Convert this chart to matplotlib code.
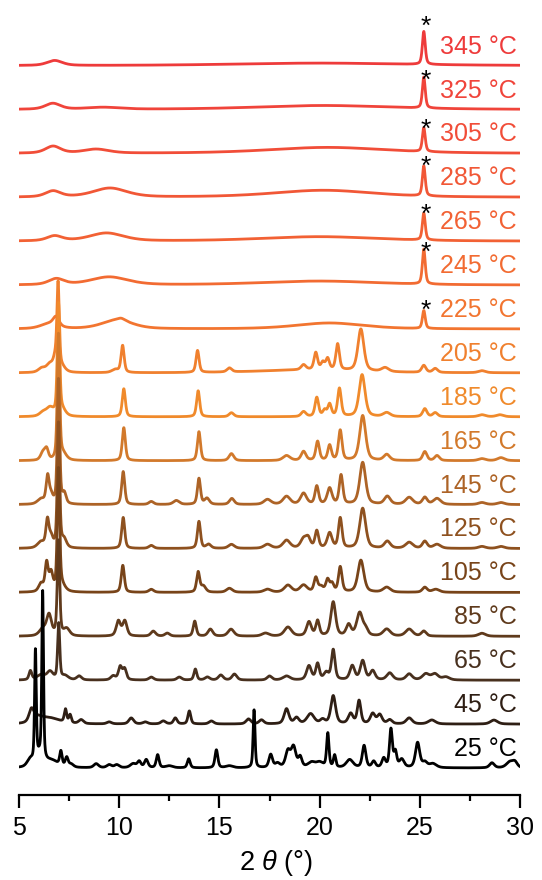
import numpy as np
import matplotlib
matplotlib.use("Agg")
import matplotlib.pyplot as plt

plt.rcParams['font.family'] = ['Liberation Sans', 'DejaVu Sans']
plt.rcParams['mathtext.fontset'] = 'custom'
plt.rcParams['mathtext.rm'] = 'Liberation Sans'
plt.rcParams['mathtext.it'] = 'Liberation Sans:italic'

# ---- data: temperatures, colours, peak lists (2theta, height, fwhm) ----
temps = [25, 45, 65, 85, 105, 125, 145, 165, 185, 205, 225, 245, 265, 285, 305, 325, 345]
colors = ['#000000', '#2e1e14', '#48301e', '#5f3a1c', '#784419', '#8e511f', '#ad6326',
          '#d2792b', '#f08a2b', '#f0802e', '#f27530', '#f26b32', '#f26134', '#f15736',
          '#f14d38', '#f0443a', '#ee3b3b']

p25 = [(5.55, 7, 0.35), (5.82, 110, 0.07), (6.0, 10, 0.4), (6.18, 168, 0.07), (6.6, 7, 0.8),
       (7.09, 14, 0.1), (7.38, 9, 0.12), (7.6, 3, 0.2), (8.85, 4, 0.2), (9.5, 3, 0.2),
       (9.88, 3, 0.2), (10.7, 4, 0.25), (11.0, 6, 0.15), (11.35, 8, 0.15), (11.92, 13, 0.12),
       (12.5, 2, 0.3), (13.47, 9, 0.12), (14.85, 18, 0.12), (15.5, 2, 0.3), (16.73, 58, 0.08),
       (17.56, 13, 0.15), (17.9, 4, 0.2), (18.42, 16, 0.2), (18.7, 20, 0.2), (19.03, 10, 0.15),
       (19.6, 5, 0.3), (20.0, 5, 0.3), (20.41, 34, 0.1), (20.75, 12, 0.1), (21.5, 8, 0.4),
       (22.22, 22, 0.15), (22.7, 6, 0.15), (23.2, 9, 0.15), (23.56, 38, 0.12), (23.78, 15, 0.12),
       (24.1, 8, 0.2), (24.89, 25, 0.18), (25.25, 5, 0.2), (25.65, 4, 0.3), (28.6, 5, 0.2),
       (29.5, 6, 0.3), (29.75, 5, 0.2)]
p45 = [(5.62, 12, 0.2), (5.9, 5, 0.6), (6.5, 6, 1.2), (7.32, 13, 0.1), (7.55, 8, 0.1),
       (8.1, 4, 0.2), (9.5, 2, 0.2), (10.6, 6, 0.2), (11.3, 2, 0.2), (12.2, 3, 0.2),
       (12.8, 6, 0.15), (13.5, 13, 0.12), (14.6, 3, 0.2), (16.45, 5, 0.2), (17.1, 4, 0.2),
       (18.35, 15, 0.2), (18.85, 6, 0.2), (19.55, 10, 0.3), (20.15, 4, 0.2), (20.68, 28, 0.2),
       (21.55, 10, 0.2), (21.97, 23, 0.15), (22.65, 10, 0.2), (23.0, 9, 0.2), (23.5, 4, 0.2),
       (24.47, 6, 0.25), (25.6, 4, 0.3), (28.7, 4, 0.3)]
p65 = [(5.57, 9, 0.12), (6.1, 5, 0.5), (6.55, 8, 0.25), (6.98, 56, 0.09), (7.3, 4, 0.4),
       (8.0, 4, 0.2), (9.7, 4, 0.2), (10.05, 13, 0.15), (10.27, 11, 0.15), (11.6, 3, 0.2),
       (13.0, 3, 0.2), (13.8, 11, 0.12), (14.4, 3, 0.2), (15.07, 5, 0.2), (15.75, 6, 0.2),
       (17.5, 4, 0.2), (18.35, 4, 0.3), (19.47, 14, 0.2), (19.9, 16, 0.15), (20.33, 7, 0.2),
       (20.68, 30, 0.15), (21.63, 14, 0.2), (22.15, 19, 0.2), (22.65, 9, 0.2), (23.5, 7, 0.25),
       (24.47, 6, 0.25), (25.3, 6, 0.4), (25.75, 6, 0.4), (26.3, 3, 0.3)]
p85 = [(6.2, 7, 0.3), (6.5, 20, 0.2), (6.97, 95, 0.1), (7.38, 7, 0.25), (9.96, 15, 0.18),
       (10.28, 15, 0.18), (11.7, 5, 0.2), (12.4, 3, 0.2), (13.77, 15, 0.13), (14.55, 7, 0.2),
       (15.58, 7, 0.25), (17.3, 3, 0.3), (18.42, 9, 0.3), (19.47, 14, 0.2), (19.9, 15, 0.15),
       (20.68, 34, 0.2), (21.45, 11, 0.2), (22.0, 23, 0.25), (22.3, 6, 0.2), (23.35, 7, 0.3),
       (24.47, 7, 0.3), (25.2, 5, 0.2), (28.1, 3, 0.3)]
p105 = [(6.1, 8, 0.2), (6.38, 28, 0.13), (6.6, 18, 0.15), (6.97, 120, 0.1), (7.12, 6, 0.3),
        (10.18, 27, 0.13), (11.6, 3, 0.2), (13.94, 20, 0.13), (14.2, 6, 0.2), (15.5, 4, 0.25),
        (17.4, 3, 0.3), (18.42, 7, 0.3), (19.2, 7, 0.3), (19.81, 14, 0.15), (20.07, 5, 0.2),
        (20.4, 12, 0.15), (20.62, 8, 0.15), (21.03, 25, 0.15), (22.06, 32, 0.25),
        (23.35, 5, 0.3), (25.25, 5, 0.2), (25.8, 3, 0.3)]
p125 = [(6.1, 6, 0.3), (6.42, 27, 0.13), (6.6, 10, 0.15), (6.97, 125, 0.1), (7.25, 8, 0.2),
        (10.2, 31, 0.13), (11.6, 3, 0.2), (13.98, 27, 0.13), (14.46, 4, 0.2), (15.6, 4, 0.25),
        (17.4, 4, 0.3), (18.35, 8, 0.3), (19.2, 9, 0.25), (19.43, 9, 0.2), (19.86, 17, 0.15),
        (20.5, 15, 0.2), (21.03, 30, 0.15), (22.15, 40, 0.25), (23.38, 7, 0.25),
        (24.47, 6, 0.3), (25.25, 7, 0.2), (25.86, 4, 0.3), (28.1, 2, 0.3), (29.05, 2, 0.3)]
p145 = [(6.1, 5, 0.3), (6.43, 27, 0.13), (6.6, 8, 0.15), (6.97, 125, 0.1), (7.26, 10, 0.15),
        (10.2, 33, 0.13), (11.6, 3, 0.2), (12.85, 4, 0.25), (13.98, 26, 0.13), (14.38, 6, 0.2),
        (15.62, 6, 0.2), (17.4, 5, 0.3), (18.35, 8, 0.3), (19.2, 11, 0.25), (19.86, 18, 0.15),
        (20.5, 16, 0.2), (21.07, 29, 0.15), (22.15, 42, 0.25), (23.38, 8, 0.25),
        (24.47, 7, 0.3), (25.25, 7, 0.2), (25.86, 6, 0.3), (28.1, 2, 0.3), (29.05, 2, 0.3)]
p165 = [(6.2, 8, 0.2), (6.38, 10, 0.15), (6.97, 125, 0.1), (7.2, 6, 0.4), (10.23, 33, 0.13),
        (13.98, 29, 0.13), (15.6, 7, 0.2), (18.35, 5, 0.3), (19.2, 9, 0.2), (19.9, 19, 0.15),
        (20.5, 15, 0.15), (21.03, 30, 0.15), (22.15, 45, 0.25), (23.35, 6, 0.25),
        (25.25, 9, 0.18), (25.86, 5, 0.2), (28.1, 2, 0.3), (29.05, 3, 0.3)]
p185 = [(6.2, 4, 0.3), (6.55, 8, 0.3), (6.97, 110, 0.1), (7.15, 6, 0.4), (10.23, 28, 0.13),
        (13.94, 26, 0.13), (15.6, 4, 0.2), (19.2, 5, 0.2), (19.86, 19, 0.15), (20.25, 6, 0.15),
        (20.5, 12, 0.15), (20.99, 28, 0.15), (22.12, 42, 0.25), (23.35, 4, 0.3),
        (25.25, 8, 0.18), (25.77, 4, 0.2), (28.1, 2, 0.3), (29.0, 2, 0.3)]
p205 = [(6.13, 4, 0.4), (6.55, 8, 0.3), (6.8, 10, 0.15), (6.95, 85, 0.1), (7.13, 5, 0.4),
        (9.8, 3, 0.4), (10.17, 27, 0.13), (13.91, 22, 0.13), (15.5, 4, 0.2), (19.2, 5, 0.2),
        (19.81, 17, 0.15), (20.16, 7, 0.15), (20.4, 11, 0.15), (20.9, 26, 0.15),
        (22.06, 42, 0.25), (23.27, 4, 0.3), (25.2, 7, 0.18), (25.77, 4, 0.2), (28.1, 2, 0.3),
        (19.5, 3, 6.0)]
p225 = [(6.5, 5, 1.0), (6.85, 9, 0.25), (9.9, 9, 1.8), (10.1, 2, 0.3), (20.5, 6, 4.0),
        (25.2, 18, 0.12)]
p245 = [(6.86, 6, 0.9), (9.5, 8, 2.2), (20.0, 4, 7.0), (25.2, 35, 0.12)]
p265 = [(6.78, 5, 0.9), (9.37, 8, 2.0), (20.0, 4.5, 7.0), (25.2, 27, 0.12)]
p285 = [(6.7, 6, 0.9), (9.54, 9, 2.0), (20.2, 7, 6.0), (25.2, 30, 0.12)]
p305 = [(6.7, 7, 0.9), (8.85, 4, 1.5), (20.4, 6, 7.0), (25.2, 24, 0.12)]
p325 = [(6.69, 6, 0.9), (9.2, 2, 2.0), (20.2, 4, 8.0), (25.2, 31, 0.12)]
p345 = [(6.78, 5, 0.9), (20.0, 2.5, 10.0), (25.2, 33, 0.12)]

peaks = [p25, p45, p65, p85, p105, p125, p145, p165, p185, p205, p225,
         p245, p265, p285, p305, p325, p345]

# asterisk markers: temperature -> centre height above trace baseline
star_temps = [225, 245, 265, 285, 305, 325, 345]
star_heights = [25, 39, 33, 37, 31, 36, 46]
star_pos = 25.3

x_ticks = [5, 10, 15, 20, 25, 30]

# ---- drawing ----
spacing = 43.9
broadening = 1.4          # instrumental broadening applied to the narrow reflections
x = np.linspace(5, 30, 3001)


def pv(xx, c, h, w, eta=0.5):
    if w <= 0.3:
        w = w * broadening
    g = np.exp(-4 * np.log(2) * ((xx - c) / w) ** 2)
    l = 1.0 / (1.0 + 4 * ((xx - c) / w) ** 2)
    return h * (eta * l + (1 - eta) * g)


fig = plt.figure(figsize=(5.42, 8.80), dpi=100)
ax = fig.add_axes([19 / 542, 85 / 880, 501 / 542, 790 / 880])

n = len(temps)
for i, (t, col, pk) in enumerate(zip(temps, colors, peaks)):
    y = np.zeros_like(x)
    for c, h, w in pk:
        y += pv(x, c, h, w)
    base = i * spacing
    ax.plot(x, y + base, color=col, lw=2.0, zorder=10 + (n - i), solid_joinstyle='round')
    ax.text(29.85, base + 12, f'{t} °C', color=col, fontsize=18, ha='right', va='baseline',
            zorder=40)
    if t in star_temps:
        sh = star_heights[star_temps.index(t)]
        ax.text(star_pos, base + sh - 14, '*', color='black', fontsize=19, ha='center',
                va='baseline', zorder=40)

ax.set_xlim(5, 30)
ax.set_ylim(-27, 763)
for s in ['left', 'right', 'top']:
    ax.spines[s].set_visible(False)
ax.spines['bottom'].set_linewidth(1.6)
ax.set_yticks([])
ax.set_xticks(x_ticks)
ax.set_xticks([7.5, 12.5, 17.5, 22.5, 27.5], minor=True)
ax.tick_params(axis='x', which='major', direction='out', length=9, width=1.6,
               labelsize=18, pad=6)
ax.tick_params(axis='x', which='minor', direction='out', length=4.5, width=1.6)
ax.set_xlabel(r'2 $\it{\theta}$ (°)', fontsize=19.5)
ax.xaxis.label.set_va('baseline')
ax.xaxis.set_label_coords(0.513, -75 / 790)

fig.savefig('out.png', dpi=100)
